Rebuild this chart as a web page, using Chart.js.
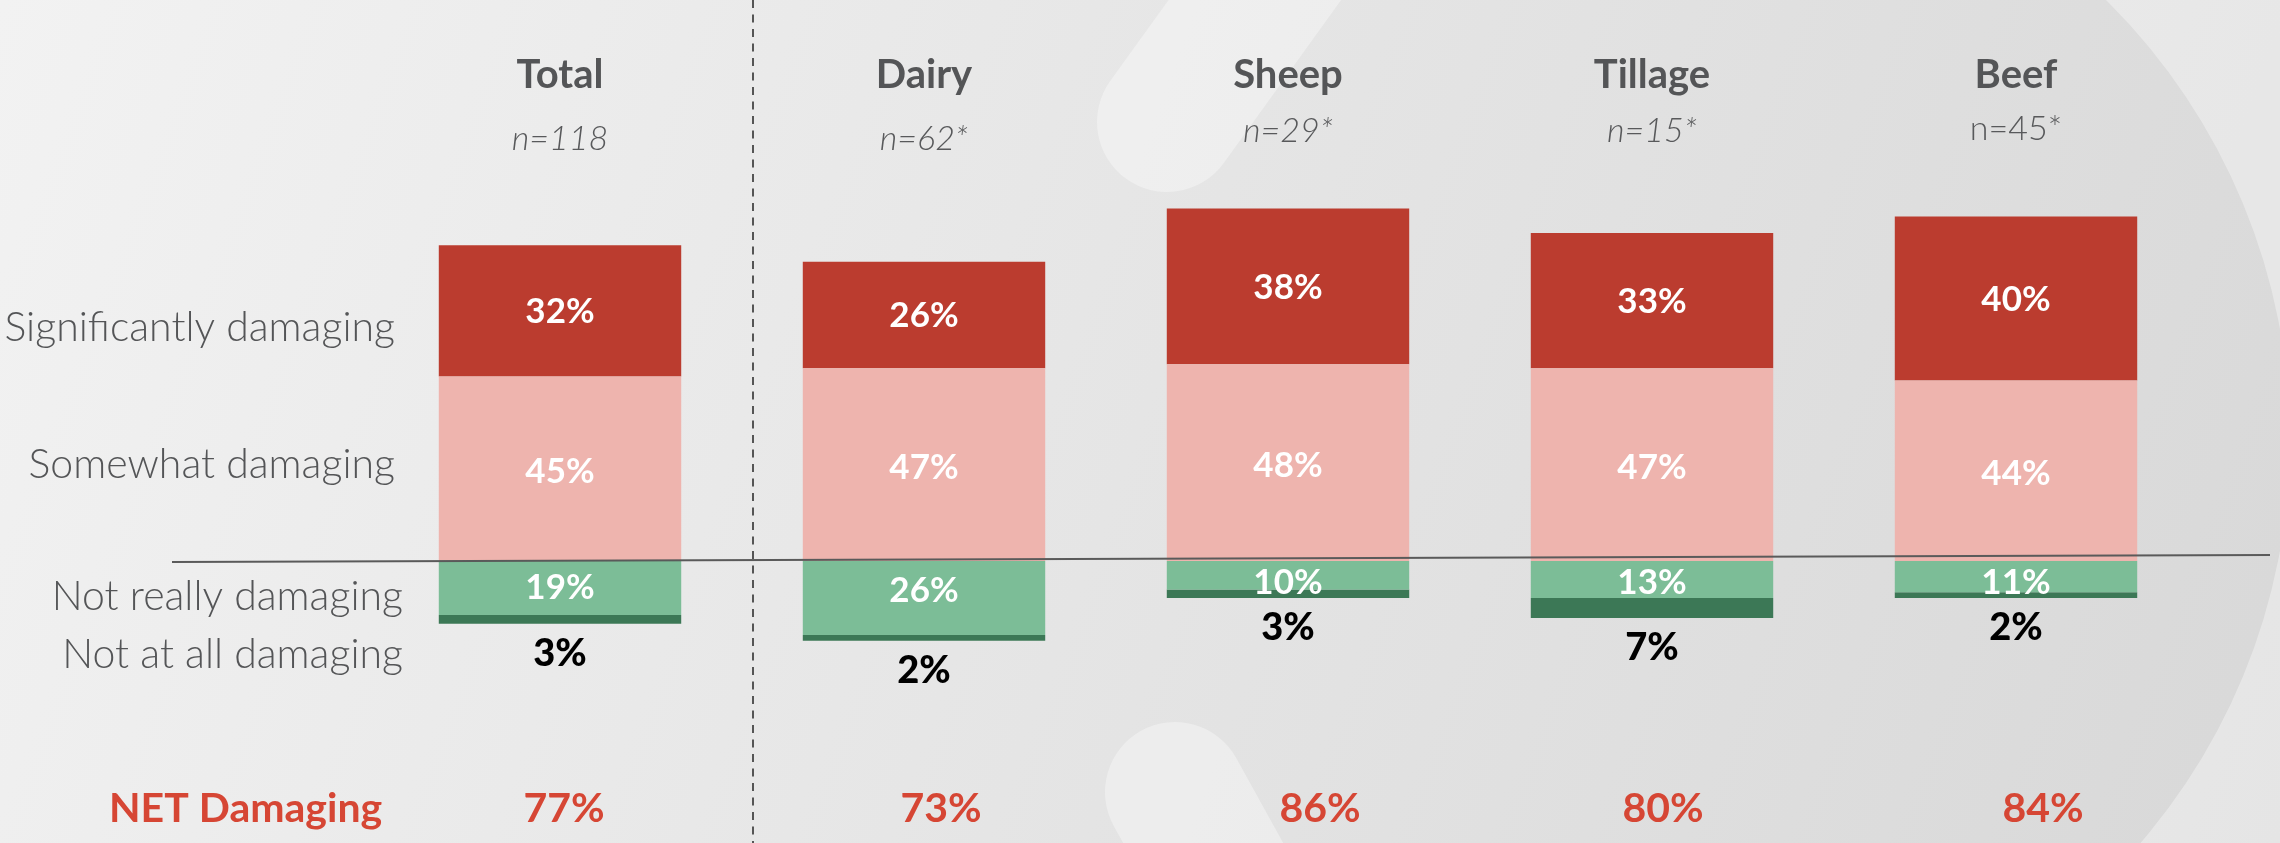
<!DOCTYPE html>
<html>
<head>
<meta charset="utf-8">
<title>NET Damaging by farm type</title>
<script src="https://cdn.jsdelivr.net/npm/chart.js@4/dist/chart.umd.min.js"></script>
<style>
  html, body { margin: 0; padding: 0; background: #e6e6e6; }
  #wrap { width: 2280px; height: 843px; position: relative; }
</style>
</head>
<body>
<div id="wrap"><canvas id="damageChart"></canvas></div>
<script>
// Data
const categories = ['Total', 'Dairy', 'Sheep', 'Tillage', 'Beef'];
const sampleSizes = ['n=118', 'n=62*', 'n=29*', 'n=15*', 'n=45*'];
const seriesNames = ['Significantly damaging', 'Somewhat damaging', 'Not really damaging', 'Not at all damaging'];
const significantly = [32, 26, 38, 33, 40];
const somewhat = [45, 47, 48, 47, 44];
const notReally = [19, 26, 10, 13, 11];
const notAtAll = [3, 2, 3, 7, 2];
const netDamaging = [77, 73, 86, 80, 84];

// Colours
const colors = {
    red: '#bb3c2f',
    pink: '#eeb4ae',
    green: '#7cbd97',
    darkGreen: '#3c7856',
    net: '#d64634',
    heading: '#545557',
    muted: '#58595b'
};
const FONT = 'Lato, "Open Sans", sans-serif';

// Background: soft grey gradient with the faint logo shapes
const backgroundPlugin = {
    id: 'slideBackground',
    beforeDraw(chart) {
        const ctx = chart.ctx;
        const w = chart.width, h = chart.height;
        ctx.save();
        const g = ctx.createLinearGradient(0, 0, w, h);
        g.addColorStop(0, '#f2f2f2');
        g.addColorStop(1, '#d8d8d8');
        ctx.fillStyle = g;
        ctx.fillRect(0, 0, w, h);

        // lighter crescent at the right edge (outside the big arc)
        ctx.save();
        ctx.beginPath();
        ctx.rect(1672, 0, w - 1672, h);
        ctx.clip();
        ctx.beginPath();
        ctx.rect(1672, 0, w - 1672, h);
        ctx.moveTo(1672 + 618, 440);
        ctx.arc(1672, 440, 618, 0, Math.PI * 2);
        ctx.fillStyle = 'rgba(255,255,255,0.35)';
        ctx.fill('evenodd');
        ctx.restore();

        // two rounded strokes
        ctx.lineCap = 'round';
        ctx.lineWidth = 140;
        ctx.strokeStyle = 'rgba(255,255,255,0.35)';
        ctx.beginPath();
        ctx.moveTo(1167, 122);
        ctx.lineTo(1311, -78);
        ctx.stroke();
        ctx.beginPath();
        ctx.moveTo(1175, 792);
        ctx.lineTo(1258, 942);
        ctx.stroke();
        ctx.restore();
    }
};

// Headings, row labels, value labels, zero line and divider
const annotationPlugin = {
    id: 'slideLabels',
    afterDatasetsDraw(chart) {
        const ctx = chart.ctx;
        const xScale = chart.scales.x;
        const zeroY = chart.scales.y.getPixelForValue(0);
        ctx.save();

        // zero line (slightly tilted like the slide)
        ctx.strokeStyle = '#5a5a5a';
        ctx.lineWidth = 2;
        ctx.beginPath();
        ctx.moveTo(172, zeroY + 1);
        ctx.lineTo(2270, zeroY - 6);
        ctx.stroke();

        // dashed divider between Total and the farm types
        const divX = (xScale.getPixelForValue(0) + xScale.getPixelForValue(1)) / 2 + 11;
        ctx.setLineDash([8, 6.5]);
        ctx.strokeStyle = '#555555';
        ctx.beginPath();
        ctx.moveTo(divX, 0);
        ctx.lineTo(divX, chart.height);
        ctx.stroke();
        ctx.setLineDash([]);

        // column headings and sample sizes
        const nBaseline = [150, 150, 142, 142, 140];
        ctx.textAlign = 'center';
        ctx.textBaseline = 'alphabetic';
        categories.forEach((cat, i) => {
            const x = xScale.getPixelForValue(i);
            ctx.fillStyle = colors.heading;
            ctx.font = `700 40px ${FONT}`;
            ctx.fillText(cat, x, 88);
            ctx.fillStyle = colors.muted;
            ctx.font = `${i === 4 ? 'normal' : 'italic'} 300 34px ${FONT}`;
            ctx.fillText(sampleSizes[i], x, nBaseline[i]);
        });

        // row labels on the left
        ctx.textAlign = 'right';
        ctx.textBaseline = 'middle';
        ctx.fillStyle = colors.heading;
        ctx.font = `300 41px ${FONT}`;
        ctx.fillText(seriesNames[0], 395, 328);
        ctx.fillText(seriesNames[1], 395, 465);
        ctx.fillText(seriesNames[2], 403, 597);
        ctx.fillText(seriesNames[3], 403, 655);

        // values inside / under the bars
        ctx.textAlign = 'center';
        chart.data.datasets.forEach((ds, di) => {
            const meta = chart.getDatasetMeta(di);
            meta.data.forEach((bar, j) => {
                const {x, y, base} = bar.getProps(['x', 'y', 'base'], true);
                const label = Math.abs(ds.data[j]) + '%';
                if (ds.key === 'notAtAll') {
                    ctx.font = `900 38px ${FONT}`;
                    ctx.fillStyle = '#000000';
                    ctx.fillText(label, x, Math.max(y, base) + 30);
                } else if (ds.key === 'notReally') {
                    const mid = (y + base) / 2;
                    ctx.font = `700 35px ${FONT}`;
                    ctx.fillStyle = '#ffffff';
                    ctx.fillText(label, x, Math.min(Math.max(mid, base + 22), base + 30));
                } else {
                    ctx.font = `700 35px ${FONT}`;
                    ctx.fillStyle = '#ffffff';
                    ctx.fillText(label, x, (y + base) / 2 + (ds.key === 'somewhat' ? 3 : 1));
                }
            });
        });

        // NET row
        const netNudge = [4, 17, 32, 11, 27];
        ctx.fillStyle = colors.net;
        ctx.font = `700 41px ${FONT}`;
        ctx.textAlign = 'left';
        ctx.fillText('NET Damaging', 109, 809);
        ctx.textAlign = 'center';
        netDamaging.forEach((v, i) => {
            ctx.fillText(v + '%', xScale.getPixelForValue(i) + netNudge[i], 809);
        });
        ctx.restore();
    }
};

function initDamageChart() {
    const ctx = document.getElementById('damageChart').getContext('2d');
    return new Chart(ctx, {
        type: 'bar',
        data: {
            labels: categories,
            datasets: [{
                key: 'somewhat',
                label: seriesNames[1],
                data: somewhat,
                yAxisID: 'y',
                backgroundColor: colors.pink
            }, {
                key: 'significantly',
                label: seriesNames[0],
                data: significantly,
                yAxisID: 'y',
                backgroundColor: colors.red
            }, {
                key: 'notReally',
                label: seriesNames[2],
                data: notReally.map(v => -v),
                yAxisID: 'y2',
                backgroundColor: colors.green
            }, {
                key: 'notAtAll',
                label: seriesNames[3],
                data: notAtAll.map(v => -v),
                yAxisID: 'y2',
                backgroundColor: colors.darkGreen
            }]
        },
        options: {
            responsive: true,
            maintainAspectRatio: false,
            animation: false,
            layout: {
                padding: { left: 378, right: 82, top: 151, bottom: 77 }
            },
            datasets: {
                bar: {
                    categoryPercentage: 1,
                    barPercentage: 0.666,
                    borderWidth: 0
                }
            },
            plugins: {
                legend: { display: false },
                tooltip: { enabled: false }
            },
            scales: {
                x: {
                    stacked: true,
                    display: false,
                    offset: true,
                    grid: { display: false }
                },
                // positive side (damaging)
                y: {
                    stacked: true,
                    display: false,
                    min: -50,
                    max: 100
                },
                // negative side drawn on a shorter scale, zero aligned with y
                y2: {
                    stacked: true,
                    display: false,
                    min: -72,
                    max: 144
                }
            }
        },
        plugins: [backgroundPlugin, annotationPlugin]
    });
}

document.addEventListener('DOMContentLoaded', () => {
    initDamageChart();
});
</script>
</body>
</html>
